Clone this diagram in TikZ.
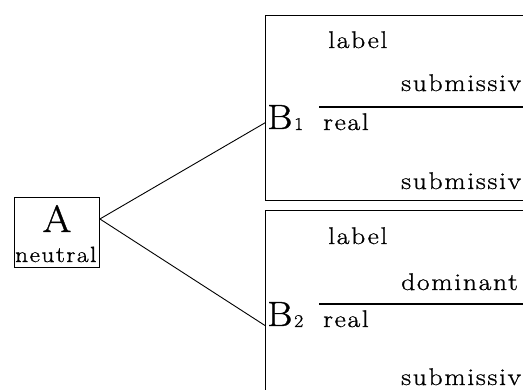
\documentclass[tikz,border=0pt]{standalone}
\usepackage{fontspec}
\newfontfamily\spacedfont[LetterSpace=7,FakeStretch=1.15,FakeBold=1]{Latin Modern Roman}
\newfontfamily\heavyfont[FakeStretch=1.1,FakeBold=1]{Latin Modern Roman}
\usetikzlibrary{calc}
\begin{document}
\begin{tikzpicture}[x=1pt,y=-1pt,
  txt/.style={inner sep=0pt, anchor=base west,
    font=\spacedfont\fontsize{24}{28}\selectfont},
  smalltxt/.style={txt, font=\spacedfont\fontsize{22}{26}\selectfont},
  bigletter/.style={inner sep=0pt, anchor=base west, font=\heavyfont\fontsize{35}{40}\selectfont},
  biggest/.style={inner sep=0pt, anchor=base, font=\heavyfont\fontsize{38}{42}\selectfont},
  subscr/.style={inner sep=0pt, anchor=base west, font=\heavyfont\fontsize{18}{21}\selectfont},
  frame/.style={draw, line width=0.9pt, inner sep=0pt, anchor=north west},
  link/.style={line width=0.9pt},
  rulebar/.style={line width=1.4pt}]
\useasboundingbox (0,0) rectangle (523,390);
\clip (0,0) rectangle (523,390);

% root state A
\node[frame, minimum width=85, minimum height=70] (A) at (14,197) {};
\node[biggest] (Aname) at (57,232) {A};
\node[smalltxt] (Aqual) at (15,262) {neutral};

% first successor B1
\node[frame, minimum width=300, minimum height=185] (B1) at (265,15) {};
\node[bigletter] (B1name) at (267,129) {B};
\node[subscr] (B1idx) at (294,130) {1};
\node[txt] (B1label) at (328,48) {label};
\node[txt] (B1labval) at (401,91) {submissiv};
\node[txt] (B1real) at (323,130) {real};
\node[txt] (B1realval) at (401,189) {submissiv};
\coordinate (B1ruleL) at (319,107);
\coordinate (B1ruleR) at (530,107);
\draw[rulebar] (B1ruleL) -- (B1ruleR);

% second successor B2
\node[frame, minimum width=300, minimum height=200] (B2) at (265,210) {};
\node[bigletter] (B2name) at (267,326) {B};
\node[subscr] (B2idx) at (294,327) {2};
\node[txt] (B2label) at (328,244) {label};
\node[txt] (B2labval) at (401,290) {dominant};
\node[txt] (B2real) at (323,327) {real};
\node[txt] (B2realval) at (401,385) {submissiv};
\coordinate (B2ruleL) at (319,304);
\coordinate (B2ruleR) at (530,304);
\draw[rulebar] (B2ruleL) -- (B2ruleR);

% branches from A to its successors
\coordinate (Aout) at ($(A.north east)!0.31!(A.south east)$);
\coordinate (B1in) at ($(B1.north west)!0.58!(B1.south west)$);
\coordinate (B2in) at ($(B2.north west)!0.575!(B2.south west)$);
\draw[link] (Aout) -- (B1in);
\draw[link] (Aout) -- (B2in);
\end{tikzpicture}
\end{document}
